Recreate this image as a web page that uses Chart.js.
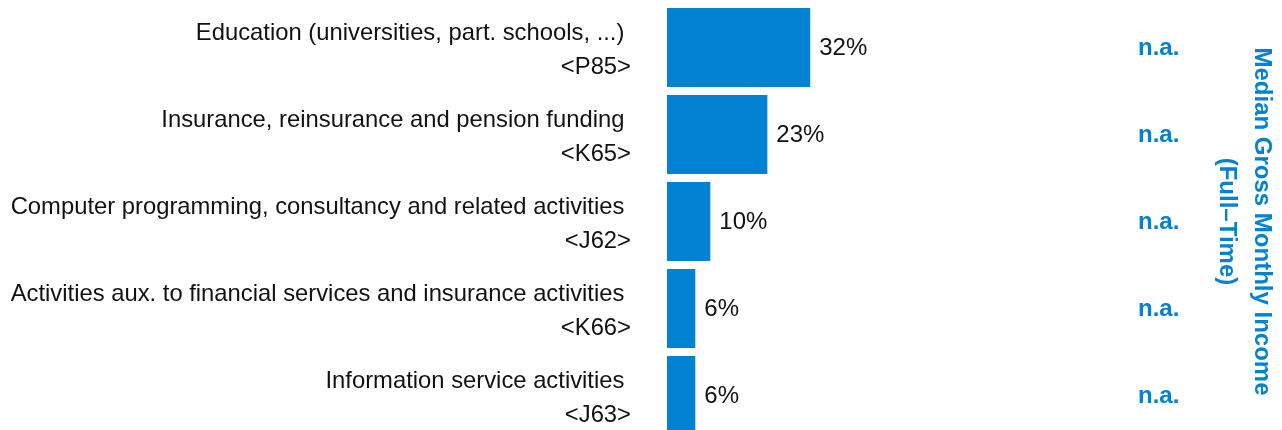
<!DOCTYPE html>
<html>
<head>
<meta charset="utf-8">
<script src="https://cdn.jsdelivr.net/npm/chart.js@4"></script>
<style>
    html, body { margin: 0; padding: 0; background: #fff; overflow: hidden; }
    #wrap { position: relative; width: 1282px; height: 439px; }
</style>
</head>
<body>
<div id="wrap"><canvas id="chartSectors"></canvas></div>
<script>
const sectorNames = [
    ['Education (universities, part. schools, ...) ', '<P85>'],
    ['Insurance, reinsurance and pension funding ', '<K65>'],
    ['Computer programming, consultancy and related activities ', '<J62>'],
    ['Activities aux. to financial services and insurance activities ', '<K66>'],
    ['Information service activities ', '<J63>']
];
const shares = [32.4, 22.7, 9.8, 6.4, 6.4];
const incomeLabels = ['n.a.', 'n.a.', 'n.a.', 'n.a.', 'n.a.'];
const incomeTitle = ['Median Gross Monthly Income', '(Full\u2013Time)'];

const blue = '#0182d3';
const fontFamily = '"Liberation Sans", Arial, sans-serif';

// writes the percentage right of each bar
const shareLabelPlugin = {
    id: 'shareLabels',
    afterDatasetsDraw(chart) {
        const ctx = chart.ctx;
        const meta = chart.getDatasetMeta(0);
        ctx.save();
        ctx.font = '24px ' + fontFamily;
        ctx.fillStyle = '#111';
        ctx.textAlign = 'left';
        ctx.textBaseline = 'middle';
        meta.data.forEach((bar, i) => {
            ctx.fillText(Math.round(shares[i]) + '%', bar.x + 9, bar.y + 1);
        });
        ctx.restore();
    }
};

// category labels sit a little below the bar centre in the original
const labelShiftPlugin = {
    id: 'labelShift',
    beforeDraw(chart) {
        [['y', 3], ['y2', 1]].forEach(([id, dy]) => {
            const items = chart.scales[id].getLabelItems();
            if (items._shifted) return;
            items.forEach(item => { item.options.translation[1] += dy; });
            items._shifted = true;
        });
    }
};

// the tick labels should not push the plot area in
function noVerticalPadding(scale) {
    scale.paddingTop = 0;
    scale.paddingBottom = 0;
}

function initChart() {
    let chartCanvas = document.getElementById('chartSectors');
    new Chart(chartCanvas, {
        type: 'bar',
        data: {
            labels: sectorNames,
            datasets: [
                {
                    label: 'Share',
                    data: shares,
                    backgroundColor: blue,
                    borderWidth: 0,
                    barPercentage: 0.91,
                    categoryPercentage: 1
                }
            ]
        },
        options: {
            indexAxis: 'y',
            responsive: true,
            maintainAspectRatio: false,
            animation: false,
            layout: { padding: { top: 4, left: 0, right: 0, bottom: 0 } },
            plugins: {
                legend: { display: false },
                tooltip: { enabled: false }
            },
            scales: {
                x: {
                    display: false,
                    min: 0,
                    max: 100
                },
                y: {
                    position: 'left',
                    grid: { display: false, drawTicks: false },
                    border: { display: false },
                    ticks: {
                        padding: 36,
                        color: '#111',
                        font: { family: fontFamily, size: 23.8, lineHeight: 1.43 }
                    },
                    afterFit: function (scale) {
                        scale.width = 667;
                        noVerticalPadding(scale);
                    }
                },
                y2: {
                    type: 'category',
                    position: 'right',
                    labels: incomeLabels,
                    offset: true,
                    grid: { display: false, drawTicks: false },
                    border: { display: false },
                    ticks: {
                        padding: 29,
                        color: blue,
                        font: { family: fontFamily, size: 24, weight: 'bold' }
                    },
                    title: {
                        display: true,
                        text: incomeTitle,
                        color: blue,
                        padding: { top: 3, bottom: 0 },
                        font: { family: fontFamily, size: 24, weight: 'bold', lineHeight: 1.45 }
                    },
                    afterFit: function (scale) {
                        scale.width = 173;
                        noVerticalPadding(scale);
                    }
                }
            }
        },
        plugins: [shareLabelPlugin, labelShiftPlugin]
    });
}

window.addEventListener('load', initChart);
</script>
</body>
</html>
